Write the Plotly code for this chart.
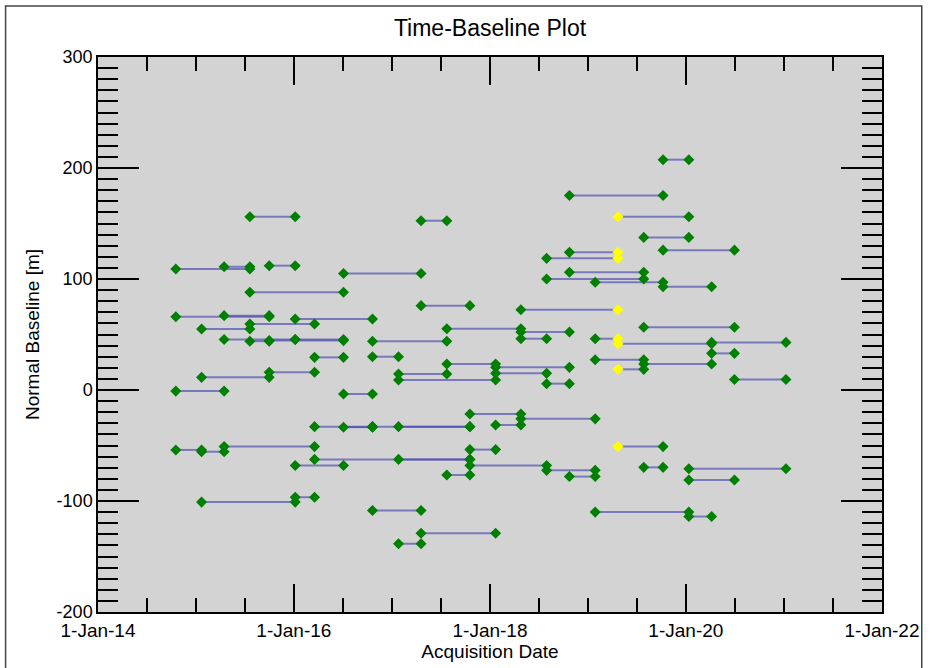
import plotly.graph_objects as go

# Acquisition dates (columns of markers)
dates = ["2014-10-18", "2015-01-22", "2015-04-16", "2015-07-21", "2015-10-01",
         "2016-01-06", "2016-03-18", "2016-07-04", "2016-10-20", "2017-01-25",
         "2017-04-19", "2017-07-24", "2017-10-18", "2018-01-22", "2018-04-26",
         "2018-07-31", "2018-10-24", "2019-01-28", "2019-04-23", "2019-07-28",
         "2019-10-08", "2020-01-12", "2020-04-06", "2020-06-30", "2021-01-08"]

highlight_date = "2019-04-23"

# Interferogram pairs: index of first date, index of second date, normal baseline [m]
pair_first = [3, 0, 2, 4, 7, 3, 0, 2, 5, 3, 1, 2, 3, 4, 5, 8, 6, 8, 4, 1, 0, 7,
              6, 7, 8, 9, 0, 1, 2, 6, 9, 5, 1, 5, 8, 9, 10,
              10, 10, 14, 11, 14, 14, 11, 13, 9, 13, 9, 15,
              12, 14, 13, 12, 12, 15, 11, 16,
              16, 18, 19, 20, 16, 15, 16, 15, 17, 20, 20,
              19, 17, 18, 22, 22, 17, 19, 18, 23,
              18, 19, 21, 21, 17, 21]
pair_second = [5, 3, 3, 5, 10, 7, 4, 4, 8, 6, 3, 5, 4, 7, 7, 11, 7, 9, 6, 4, 2, 8,
               8, 8, 12, 12, 1, 2, 6, 12, 12, 7, 5, 6, 10, 10, 13,
               11, 12, 18, 14, 16, 15, 13, 16, 11, 15, 13, 16,
               14, 17, 14, 13, 15, 17, 12, 17,
               20, 21, 21, 23, 18, 18, 19, 19, 20, 22, 21,
               23, 18, 22, 24, 23, 19, 22, 19, 24,
               20, 20, 24, 23, 21, 22]
baselines = [156, 109, 111, 112, 105, 88, 66, 67, 64, 59.5, 55, 45.5, 44, 44.5, 45.5, 44,
             29.4, 30, 16, 11.4, -1, -3.6,
             -33, -33.5, -33, -33, -54, -55.6, -51, -62.5, -62.5, -68, -101, -96.6, -108.5, -138.5, -129,
             152.5, 76, 72.3, 55.2, 52.2, 46.2, 23.4, 20.4, 14.4, 15, 9, 5.7,
             -21.6, -26, -31.5, -53.7, -68, -72.4, -76.6, -78,
             175.3, 156, 137.5, 126, 124, 118.6, 106, 100, 97, 93, 207.5,
             56.5, 46.2, 41.7, 42.9, 33, 27.3, 23.4, 18.6, 9.5,
             -51, -69.7, -71, -81, -110, -114]

# Axis tick labels
y_tick_vals = [-200, -100, 0, 100, 200, 300]
y_tick_text = ["-200", "-100", "0", "100", "200", "300"]

# Build traces from the data
lx, ly = [], []
gx, gy, yx, yy = [], [], [], []
for i, j, b in zip(pair_first, pair_second, baselines):
    d1, d2 = dates[i], dates[j]
    lx += [d1, d2, None]
    ly += [b, b, None]
    for d in (d1, d2):
        if d == highlight_date:
            yx.append(d); yy.append(b)
        else:
            gx.append(d); gy.append(b)

fig = go.Figure()
fig.add_trace(go.Scatter(x=lx, y=ly, mode="lines",
                         line=dict(color="rgba(60,60,175,0.6)", width=2),
                         hoverinfo="skip", showlegend=False))
fig.add_trace(go.Scatter(x=gx, y=gy, mode="markers",
                         marker=dict(symbol="diamond", size=8.5, color="#008000"),
                         showlegend=False))
fig.add_trace(go.Scatter(x=yx, y=yy, mode="markers",
                         marker=dict(symbol="diamond", size=8.5, color="#ffff00"),
                         showlegend=False))

font_family = "Liberation Sans Narrow, Liberation Sans, Arial, sans-serif"

fig.update_layout(
    width=932, height=668,
    margin=dict(l=98, r=45, t=57, b=56),
    paper_bgcolor="white",
    plot_bgcolor="#d3d3d3",
    font=dict(family=font_family, size=18, color="black"),
    title=dict(text="Time-Baseline Plot", x=0.5, xref="paper", xanchor="center",
               y=1 - 28 / 668, yanchor="middle", yref="container",
               font=dict(size=23, color="black")),
    showlegend=False,
)
fig.update_xaxes(
    type="date",
    range=["2014-01-01", "2022-01-01"],
    tick0="2014-01-01", dtick="M24", tickformat="%-d-%b-%y",
    ticks="inside", ticklen=28, tickwidth=1.5, tickcolor="black",
    minor=dict(tick0="2014-01-01", dtick="M6", ticks="inside", ticklen=14,
               tickwidth=1.5, tickcolor="black", showgrid=False),
    showgrid=False, zeroline=False,
    showline=True, linecolor="black", linewidth=1.5, mirror="allticks",
    tickfont=dict(size=19),
    title=dict(text="Acquisition Date", font=dict(size=19), standoff=2),
)
fig.update_yaxes(
    range=[-200, 300],
    tickmode="array", tickvals=y_tick_vals, ticktext=y_tick_text,
    ticks="inside", ticklen=41, tickwidth=1.5, tickcolor="black",
    minor=dict(tick0=0, dtick=10, ticks="inside", ticklen=20, tickwidth=1.5,
               tickcolor="black", showgrid=False),
    showgrid=False, zeroline=False,
    showline=True, linecolor="black", linewidth=1.5, mirror="allticks",
    tickfont=dict(size=18),
    title=dict(text="Normal Baseline [m]", font=dict(size=19), standoff=12),
)

# outer frame around the whole picture
fig.add_shape(type="rect", xref="paper", yref="paper",
              x0=(5 - 98) / 789, x1=(927 - 98) / 789,
              y0=(612 - 675) / 555, y1=(612 - 6) / 555,
              line=dict(color="#444444", width=1.5), fillcolor="rgba(0,0,0,0)",
              layer="below")

fig.write_html("out.html", config={"displayModeBar": False},
               post_script="document.body.style.margin='0';")
